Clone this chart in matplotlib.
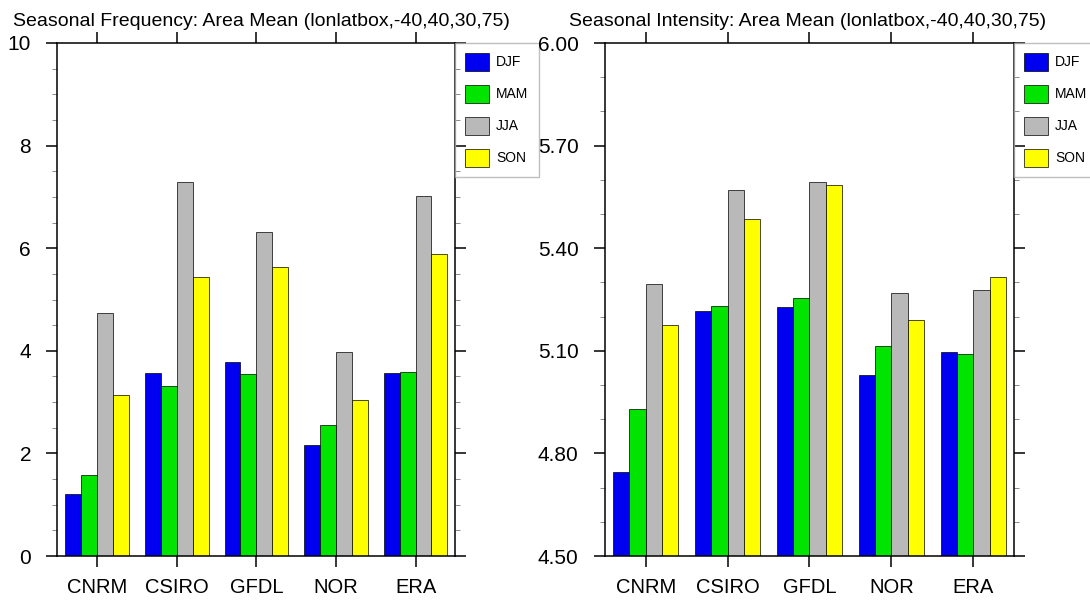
import numpy as np
import matplotlib.pyplot as plt
from matplotlib.ticker import FormatStrFormatter

plt.rcParams['font.family'] = ['Liberation Sans', 'DejaVu Sans']

## data
models = ['CNRM', 'CSIRO', 'GFDL', 'NOR', 'ERA']
seasons = ['DJF', 'MAM', 'JJA', 'SON']
colors = ['#0000f0', '#00e400', '#b9b9b9', '#ffff00']

# frequency panel
freq_djf = [1.20, 3.57, 3.78, 2.17, 3.57]
freq_mam = [1.58, 3.31, 3.54, 2.55, 3.59]
freq_jja = [4.73, 7.30, 6.31, 3.97, 7.02]
freq_son = [3.13, 5.43, 5.63, 3.05, 5.89]

# intensity panel
int_djf = [4.746, 5.216, 5.229, 5.028, 5.096]
int_mam = [4.930, 5.231, 5.253, 5.113, 5.090]
int_jja = [5.295, 5.571, 5.594, 5.268, 5.279]
int_son = [5.175, 5.485, 5.584, 5.189, 5.316]

W, H = 1090, 604
fig = plt.figure(figsize=(W / 100, H / 100), dpi=100)
ax1 = fig.add_axes([57.4 / W, 48 / H, 397.9 / W, 513 / H])
ax2 = fig.add_axes([604.8 / W, 48 / H, 409.4 / W, 513 / H])


def panel(ax, series, ylim, major, minor, fmt, title, title_x):
    x = np.arange(1, len(models) + 1)
    for i, (vals, c, lab) in enumerate(zip(series, colors, seasons)):
        ax.bar(x + (i - 1.5) * 0.2, vals, 0.2, color=c, edgecolor='black',
               linewidth=0.5, label=lab)
    ax.set_xlim(0.5, 5.5)
    ax.set_ylim(*ylim)
    ax.set_xticks(x, models)
    ax.set_yticks(major)
    ax.set_yticks(minor, minor=True)
    ax.yaxis.set_major_formatter(FormatStrFormatter(fmt))
    for s in ax.spines.values():
        s.set_linewidth(1.1)
    ax.tick_params(which='both', direction='out', top=True, right=True, width=1.1)
    ax.tick_params(which='major', length=8)
    ax.tick_params(which='minor', length=3.5, width=0.6, color='#777777')
    ax.tick_params(axis='y', labelsize=15, pad=11)
    ax.tick_params(axis='x', labelsize=14.5, pad=8)
    leg = ax.legend(loc='upper left', bbox_to_anchor=(1, 1), borderaxespad=0,
                    fontsize=10, handlelength=1.73, handleheight=1.58,
                    labelspacing=1.03, handletextpad=0.5, borderpad=0.72,
                    fancybox=False, frameon=True)
    leg.get_frame().set_facecolor('none')
    leg.get_frame().set_edgecolor('#b0b0b0')
    leg.get_frame().set_linewidth(1.0)
    fig.text(title_x / W, 1 - 26 / H, title, fontsize=14, va='baseline', ha='left')


panel(ax1, [freq_djf, freq_mam, freq_jja, freq_son], (0, 10),
      np.arange(0, 10.1, 2), np.arange(0, 10.01, 0.5), '%d',
      'Seasonal Frequency: Area Mean (lonlatbox,-40,40,30,75)', 13)
panel(ax2, [int_djf, int_mam, int_jja, int_son], (4.5, 6.0),
      np.arange(4.5, 6.01, 0.3), np.arange(4.5, 6.01, 0.1), '%.2f',
      'Seasonal Intensity: Area Mean (lonlatbox,-40,40,30,75)', 568.6)

fig.savefig('out.png', dpi=100)
